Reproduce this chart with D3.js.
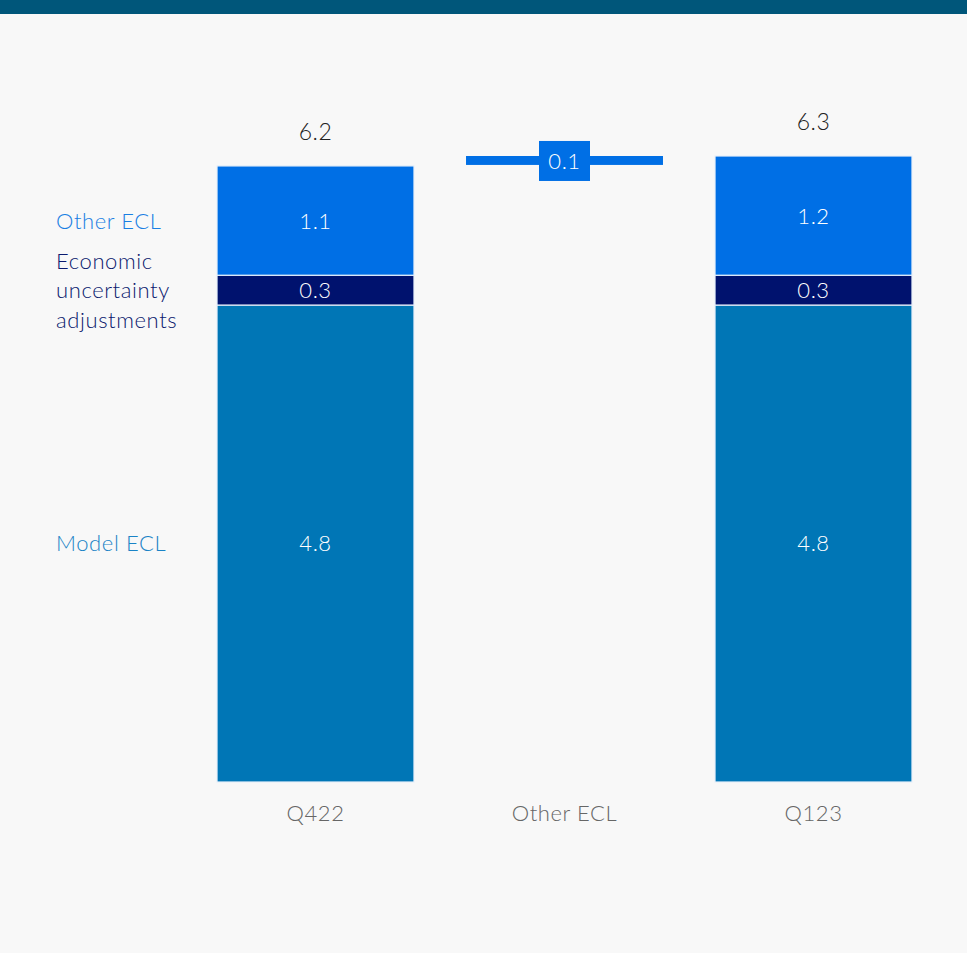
<!DOCTYPE html>
<html><head><meta charset="utf-8">
<script src="https://cdn.jsdelivr.net/npm/d3@7"></script>
<style>
html,body{margin:0;padding:0;background:#f8f8f8;}
svg{display:block;font-family:Lato, "Open Sans", sans-serif;}
</style></head>
<body>
<svg id="c" width="967" height="953"></svg>
<script>
const categories = ["Q422", "Other ECL", "Q123"];
const modelECL = [4.8, null, 4.8];
const econAdj = [0.3, null, 0.3];
const otherECL = [1.1, null, 1.2];
const totals = [6.2, null, 6.3];
const bridgeFrom = 6.2, bridgeTo = 6.3, bridgeLabel = "0.1";
const seriesNames = ["Model ECL", "Economic uncertainty adjustments", "Other ECL"];

const colors = {model:"#0076b6", econ:"#00126e", other:"#006fe5"};
const FS = 22, LS = "0.6px";

const svg = d3.select("#c");
svg.append("rect").attr("x",0).attr("y",0).attr("width",967).attr("height",14).attr("fill","#00567a");

const x = d3.scaleBand().domain(categories).range([191,938]).paddingInner(0.209).paddingOuter(0.1045);
const y = d3.scaleLinear().domain([0,6.3]).range([782,156]);

const stacked = categories.map((c,i)=>{
  if (modelECL[i]==null) return null;
  const segs=[];
  let base=0;
  [[modelECL[i],colors.model],[econAdj[i],colors.econ],[otherECL[i],colors.other]].forEach(([v,col])=>{
    segs.push({c, y0:base, y1:base+v, v, col}); base+=v;
  });
  return segs;
}).filter(d=>d);

const g = svg.append("g");
stacked.forEach(segs=>{
  segs.forEach(s=>{
    g.append("rect")
      .attr("x", x(s.c)).attr("width", x.bandwidth())
      .attr("y", y(s.y1)).attr("height", y(s.y0)-y(s.y1))
      .attr("fill", s.col).attr("stroke","#e8f0fa").attr("stroke-width",1.2);
    g.append("text")
      .attr("x", x(s.c)+x.bandwidth()/2).attr("y", (y(s.y0)+y(s.y1))/2)
      .attr("dy","0.36em").attr("text-anchor","middle")
      .attr("fill","#fff").attr("font-size",FS).attr("font-weight",300).attr("letter-spacing",LS)
      .text(s.v.toFixed(1));
  });
});

// totals
categories.forEach((c,i)=>{
  if (totals[i]==null) return;
  g.append("text").attr("x", x(c)+x.bandwidth()/2).attr("y", y(totals[i])-34)
    .attr("dy","0.36em").attr("text-anchor","middle").attr("fill","#222")
    .attr("font-size",23).attr("font-weight",300).attr("letter-spacing","0.5px").text(totals[i].toFixed(1));
});

// bridge
const bc = categories[1];
g.append("rect").attr("x", x(bc)).attr("width", x.bandwidth())
  .attr("y", y(bridgeTo)).attr("height", y(bridgeFrom)-y(bridgeTo)-1).attr("fill", colors.other);
const by = (y(bridgeFrom)+y(bridgeTo))/2;
const bx = x(bc)+x.bandwidth()/2;
g.append("rect").attr("x", bx-25.5).attr("y", by-20).attr("width",51).attr("height",40).attr("fill",colors.other);
g.append("text").attr("x", bx).attr("y", by).attr("dy","0.36em").attr("text-anchor","middle")
  .attr("fill","#fff").attr("font-size",FS).attr("font-weight",300).attr("letter-spacing",LS).text(bridgeLabel);

// category axis labels
const ax = svg.append("g").attr("transform","translate(0,782)")
  .call(d3.axisBottom(x).tickSize(0).tickPadding(23));
ax.select(".domain").remove();
ax.selectAll("text").attr("font-size",FS).attr("font-weight",300).attr("fill","#666")
  .attr("letter-spacing",LS).attr("font-family","Lato, 'Open Sans', sans-serif");

// legend labels on left
const lx = 56;
const s0 = stacked[0];
const leg = svg.append("g").attr("font-size",FS).attr("font-weight",300).attr("letter-spacing",LS);
leg.append("text").attr("x",lx).attr("y",(y(s0[2].y0)+y(s0[2].y1))/2).attr("dy","0.36em")
  .attr("fill","#1a7fe3").text(seriesNames[2]);
const econLines = ["Economic","uncertainty","adjustments"];
const ec = (y(s0[1].y0)+y(s0[1].y1))/2;
econLines.forEach((t,k)=>{
  leg.append("text").attr("x",lx).attr("y", ec + (k-1)*29.5).attr("dy","0.36em")
    .attr("fill","#0b1a6e").text(t);
});
leg.append("text").attr("x",lx).attr("y",(y(s0[0].y0)+y(s0[0].y1))/2).attr("dy","0.36em")
  .attr("fill","#1a83c6").text(seriesNames[0]);
</script>
</body></html>
